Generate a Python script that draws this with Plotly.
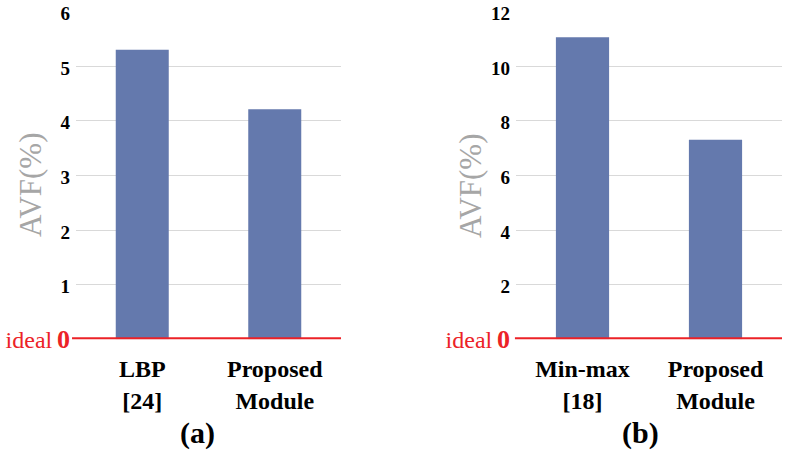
import plotly.graph_objects as go

# Data
cats_a = ["LBP<br>[24]", "Proposed<br>Module"]
vals_a = [5.30, 4.21]
cats_b = ["Min-max<br>[18]", "Proposed<br>Module"]
vals_b = [11.06, 7.31]
ticks_a = [0, 1, 2, 3, 4, 5, 6]
ticks_b = [0, 2, 4, 6, 8, 10, 12]

BAR = "#6479ad"
RED = "#ec2227"
GRID = "#d9d9d9"
FONT = "Liberation Serif"


def labels(ticks):
    zero = ("<span style='color:" + RED + ";font-weight:normal;font-size:24px'>ideal</span> "
            "<span style='color:" + RED + ";font-size:26px'>0</span>")
    return [zero if t == 0 else str(t) for t in ticks]


fig = go.Figure()
fig.add_trace(go.Bar(x=cats_a, y=vals_a, marker=dict(color=BAR, line=dict(width=0)),
                     width=0.4, xaxis="x", yaxis="y", showlegend=False))
fig.add_trace(go.Bar(x=cats_b, y=vals_b, marker=dict(color=BAR, line=dict(width=0)),
                     width=0.4, xaxis="x2", yaxis="y2", showlegend=False))

W, H = 786, 452
yd = [112.7 / H, 441 / H]
yd2 = [112.7 / H, 441 / H]

common_x = dict(showgrid=False, zeroline=False, showline=False, ticks="", automargin=False,
                tickfont=dict(family=FONT, size=24, color="black", weight="bold"),
                ticklabelstandoff=13)
common_y = dict(showgrid=True, gridcolor=GRID, gridwidth=1, zeroline=False, automargin=False,
                showline=False, ticks="", ticklabelstandoff=5, ticklabelshift=2,
                tickfont=dict(family=FONT, size=19, color="black", weight="bold"))

fig.update_layout(
    width=W, height=H,
    margin=dict(l=0, r=0, t=0, b=0, pad=0, autoexpand=False),
    paper_bgcolor="white", plot_bgcolor="white",
    xaxis=dict(domain=[76 / W, 341 / W], anchor="y", **common_x),
    xaxis2=dict(domain=[516 / W, 782 / W], anchor="y2", **common_x),
    yaxis=dict(domain=yd, anchor="x", range=[0, 6.01], tickvals=ticks_a,
               ticktext=labels(ticks_a), **common_y),
    yaxis2=dict(domain=yd2, anchor="x2", range=[0, 12.02], tickvals=ticks_b,
                ticktext=labels(ticks_b), **common_y),
    bargap=0.6,
)

# red ideal line at zero
for xr, yr, x0 in (("x domain", "y", -0.015), ("x2 domain", "y2", -0.004)):
    fig.add_shape(type="line", xref=xr, yref=yr, x0=x0, x1=1, y0=0, y1=0,
                  line=dict(color=RED, width=4), layer="above")

# y titles
for xp in (30 / W, 470 / W):
    fig.add_annotation(text="AVF(%)", xref="paper", yref="paper", x=xp, y=1 - 185 / H,
                       xanchor="center", yanchor="middle",
                       textangle=-90, showarrow=False,
                       font=dict(family=FONT, size=31, color="#a6a6a6"))

# panel labels
for txt, xp in (("(a)", 198 / W), ("(b)", 640 / W)):
    fig.add_annotation(text=txt, xref="paper", yref="paper", x=xp, y=1 - 433 / H,
                       xanchor="center", yanchor="middle", showarrow=False,
                       font=dict(family=FONT, size=30, color="black", weight="bold"))

fig.write_html("out.html")
